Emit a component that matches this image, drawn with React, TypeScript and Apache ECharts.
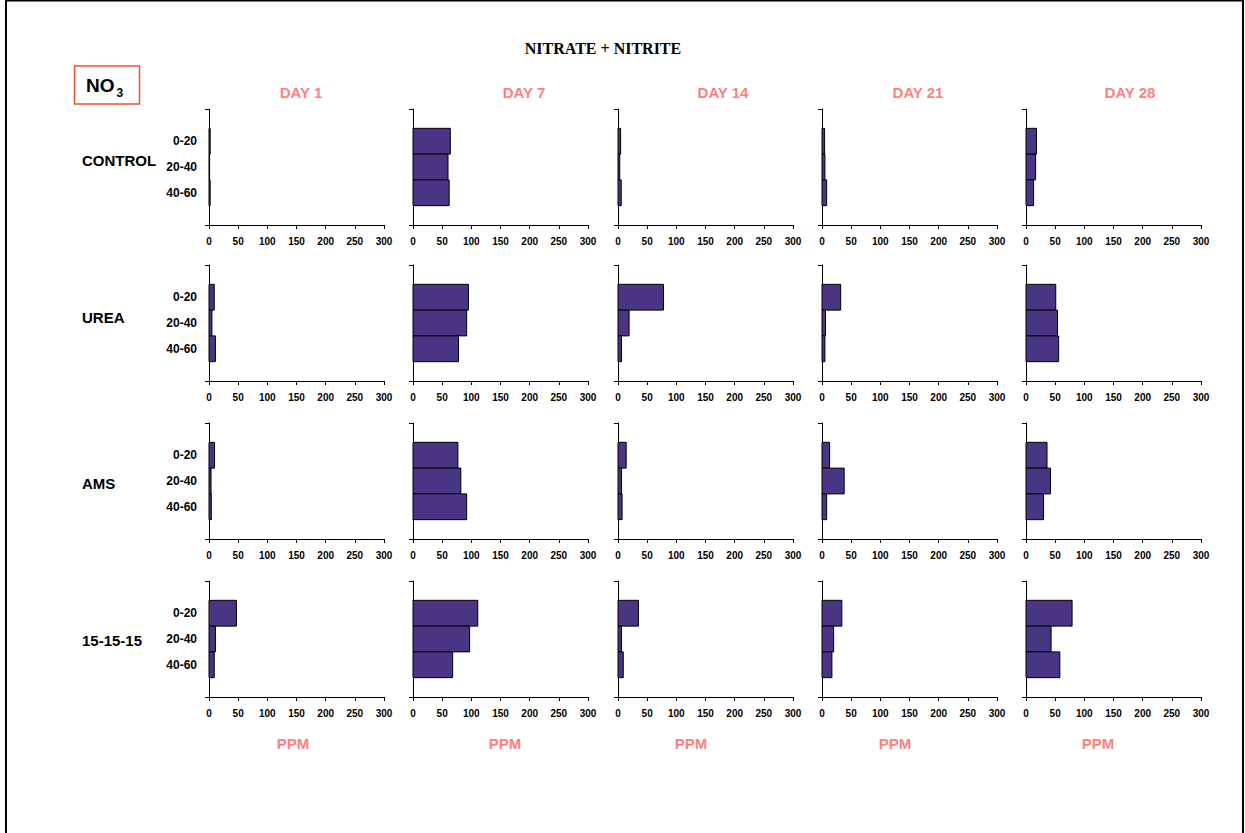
import React, { useEffect, useRef } from "react";
import * as echarts from "echarts";

// ---------- data ----------
const DEPTHS = ["0-20", "20-40", "40-60"];
const DAYS = ["DAY 1", "DAY 7", "DAY 14", "DAY 21", "DAY 28"];
const TREATMENTS = ["CONTROL", "UREA", "AMS", "15-15-15"];
const X_MIN = 0;
const X_MAX = 300;
const X_STEP = 50;

// values per treatment: [day][depth] (ppm)
const CONTROL = [[2, 1, 2], [64, 60, 62], [4.5, 3, 5.5], [4.5, 5, 8], [18, 16.5, 13]];
const UREA = [[9, 5, 11], [95, 92, 78], [78, 19, 6], [32, 6, 5], [51, 54, 56]];
const AMS = [[9.5, 3.5, 4], [77, 82, 92], [14, 6, 7], [13, 38, 8], [36, 42, 30]];
const NPK = [[47, 11, 9], [111, 97, 68], [35, 6, 9], [34, 20, 17], [79, 43, 58]];
const VALUES = [CONTROL, UREA, AMS, NPK];

// ---------- layout ----------
const COL_LEFT = [209, 413, 618, 822, 1026];
const ROW_TOP = [109, 265, 423, 581];
const PANEL_W = 175;
const PANEL_H = 116;
const DAY_X = [301, 524, 723, 918, 1130];
const PPM_X = [293, 505, 691, 895, 1098];
const ROW_LABEL_Y = [160, 317, 483, 640];

const BAR_FILL = "#4a3585";
const PINK = "#ff8080";
const FONT = "'Liberation Sans', Arial, sans-serif";

export default function App() {
  const ref = useRef<HTMLDivElement>(null);
  useEffect(() => {
    if (!ref.current) return;
    const chart = echarts.init(ref.current, null, { renderer: "svg" });
    const grids: any[] = [];
    const xAxes: any[] = [];
    const yAxes: any[] = [];
    const series: any[] = [];
    let k = 0;
    TREATMENTS.forEach((t, r) => {
      DAYS.forEach((d, c) => {
        grids.push({ left: COL_LEFT[c], top: ROW_TOP[r], width: PANEL_W, height: PANEL_H });
        xAxes.push({
          gridIndex: k,
          type: "value",
          min: X_MIN,
          max: X_MAX,
          interval: X_STEP,
          axisLine: { show: true, onZero: false, lineStyle: { color: "#000", width: 1 } },
          axisTick: { show: true, length: 4, lineStyle: { color: "#000" } },
          axisLabel: { fontSize: 10, fontWeight: "bold", color: "#000", fontFamily: FONT, margin: 11 },
          splitLine: { show: false },
        });
        yAxes.push({
          gridIndex: k,
          type: "value",
          inverse: true,
          min: -1.25,
          max: DEPTHS.length + 0.25,
          axisLine: { show: true, onZero: false, lineStyle: { color: "#000", width: 1 } },
          axisTick: { show: true, length: 4, customValues: [-1.25, DEPTHS.length + 0.25], lineStyle: { color: "#000" } },
          axisLabel: {
            show: c === 0,
            customValues: DEPTHS.map((_, i) => i),
            formatter: (v: number) => DEPTHS[Math.round(v)] ?? "",
            fontSize: 12,
            fontWeight: "bold",
            color: "#000",
            fontFamily: FONT,
            margin: 12,
          },
          splitLine: { show: false },
        });
        series.push({
          type: "custom",
          xAxisIndex: k,
          yAxisIndex: k,
          encode: { x: 0, y: 1 },
          data: VALUES[r][c].map((v, i) => [v, i]),
          renderItem: (params: any, api: any) => {
            const v = api.value(0);
            const i = api.value(1);
            const s = api.coord([0, i]);
            const e = api.coord([v, i]);
            const h = Math.abs(api.size([0, 1])[1]);
            return {
              type: "rect",
              shape: { x: s[0], y: s[1] - h / 2, width: e[0] - s[0], height: h },
              style: { fill: BAR_FILL, stroke: "#000", lineWidth: 1 },
            };
          },
        });
        k++;
      });
    });

    const txt = (text: string, x: number, y: number, font: string, fill: string, align = "center") => ({
      type: "text",
      x,
      y,
      style: { text, font, fill, align, verticalAlign: "middle", textAlign: align, textVerticalAlign: "middle" },
    });

    const graphics: any[] = [
      { type: "rect", shape: { x: 6, y: 0.5, width: 1237, height: 900 }, style: { fill: "none", stroke: "#000", lineWidth: 2 } },
      txt("NITRATE + NITRITE", 603, 48.5, `bold 16px 'Liberation Serif', 'Times New Roman', serif`, "#000"),
      { type: "rect", shape: { x: 74.5, y: 66, width: 65, height: 38 }, style: { fill: "none", stroke: "#f0502a", lineWidth: 1.5 } },
      txt("NO", 86, 85.5, `bold 19px ${FONT}`, "#000", "left"),
      txt("3", 116.5, 93, `bold 12px ${FONT}`, "#000", "left"),
    ];
    DAYS.forEach((d, c) => {
      graphics.push(txt(d, DAY_X[c], 92, `bold 15px ${FONT}`, PINK));
      graphics.push(txt("PPM", PPM_X[c], 743, `bold 15px ${FONT}`, PINK));
    });
    TREATMENTS.forEach((t, r) => {
      graphics.push(txt(t, 82, ROW_LABEL_Y[r], `bold 15px ${FONT}`, "#000", "left"));
    });

    chart.setOption({
      animation: false,
      backgroundColor: "#fff",
      grid: grids,
      xAxis: xAxes,
      yAxis: yAxes,
      series,
      graphic: { elements: graphics },
    });
    return () => chart.dispose();
  }, []);
  return (
    <div
      ref={ref}
      style={{ position: "fixed", left: 0, top: 0, width: 1245, height: 833, background: "#fff" }}
    />
  );
}
